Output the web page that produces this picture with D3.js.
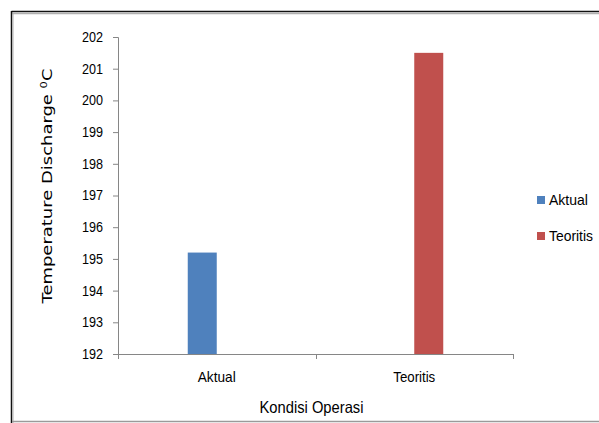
<!DOCTYPE html>
<html>
<head>
<meta charset="utf-8">
<script src="https://cdn.jsdelivr.net/npm/d3@7"></script>
<style>
  html, body { margin: 0; padding: 0; background: #fff; }
  svg { display: block; }
</style>
</head>
<body>
<script>
// Discharge temperature: measured vs. theoretical
const categories = ["Aktual", "Teoritis"];
const seriesNames = ["Aktual", "Teoritis"];
const aktualValues = [195.2, null];
const teoritisValues = [null, 201.5];
const yTicks = [192, 193, 194, 195, 196, 197, 198, 199, 200, 201, 202];
const colors = ["#4F81BD", "#C0504D"];

const W = 599, H = 423;
const svg = d3.select("body").append("svg").attr("width", W).attr("height", H);

// chart area frame
svg.append("line").attr("x1", 11.5).attr("y1", 11.5).attr("x2", W).attr("y2", 11.5)
  .attr("stroke", "#111").attr("stroke-width", 1.5);
svg.append("line").attr("x1", 12).attr("y1", 13.5).attr("x2", W).attr("y2", 13.5)
  .attr("stroke", "#b0b0b0").attr("stroke-width", 1.5);
svg.append("line").attr("x1", 11.5).attr("y1", 11).attr("x2", 11.5).attr("y2", H)
  .attr("stroke", "#111").attr("stroke-width", 1.5);
svg.append("line").attr("x1", 13).attr("y1", 13).attr("x2", 13).attr("y2", H)
  .attr("stroke", "#b0b0b0").attr("stroke-width", 1);
svg.append("line").attr("x1", 12).attr("y1", 421.5).attr("x2", W).attr("y2", 421.5)
  .attr("stroke", "#9a9a9a").attr("stroke-width", 1.5);

const x0 = d3.scaleBand().domain(categories).range([118, 513]).padding(0);
const barW = 29;
const x1 = d3.scaleBand().domain(seriesNames).range([-barW, barW]).padding(0);
const y = d3.scaleLinear().domain([192, 202]).range([354, 37]);

const axisColor = "#868686";
const font = "'Liberation Sans', Arial, sans-serif";

// y axis
const yAxis = svg.append("g").attr("transform", "translate(118,0)")
  .call(d3.axisLeft(y).tickValues(yTicks).tickSize(5).tickPadding(10).tickFormat(d3.format("d")));
yAxis.select(".domain").attr("stroke", axisColor);
yAxis.selectAll(".tick line").attr("stroke", axisColor);
yAxis.selectAll(".tick text").attr("fill", "#000")
  .style("font-family", font).style("font-size", "14px")
  .attr("textLength", 21).attr("lengthAdjust", "spacingAndGlyphs");

// bars
const series = [aktualValues, teoritisValues];
series.forEach((vals, si) => {
  svg.append("g").selectAll("rect")
    .data(categories.map((c, i) => ({ c, v: vals[i] })).filter(d => d.v != null))
    .join("rect")
    .attr("x", d => x0(d.c) + x0.bandwidth() / 2 + x1(seriesNames[si]))
    .attr("y", d => y(d.v))
    .attr("width", x1.bandwidth())
    .attr("height", d => y(192) - y(d.v))
    .attr("fill", colors[si]);
});

// x axis
const xAxis = svg.append("g").attr("transform", "translate(0,354)")
  .call(d3.axisBottom(x0).tickSize(0).tickPadding(17));
xAxis.select(".domain").attr("stroke", axisColor).attr("d", "M118.5,0.5H513");
xAxis.selectAll(".tick text").attr("fill", "#000")
  .style("font-family", font).style("font-size", "15px")
  .attr("textLength", d => d === "Aktual" ? 38 : 42).attr("lengthAdjust", "spacingAndGlyphs");
// category boundary ticks
const bounds = [x0.range()[0], ...categories.map(c => x0(c) + x0.bandwidth())];
xAxis.selectAll(".bound").data(bounds).join("line")
  .attr("x1", d => Math.round(d) + 0.5).attr("x2", d => Math.round(d) + 0.5)
  .attr("y1", 0).attr("y2", 5).attr("stroke", axisColor);

// axis titles
svg.append("text").attr("x", 311.5).attr("y", 413).attr("text-anchor", "middle")
  .style("font-family", font).style("font-size", "16.5px")
  .attr("textLength", 104).attr("lengthAdjust", "spacingAndGlyphs")
  .text("Kondisi Operasi");

const yt = svg.append("text")
  .attr("transform", "translate(52,186) rotate(-90)")
  .attr("text-anchor", "middle")
  .style("font-family", "'DejaVu Sans', sans-serif").style("font-size", "14px")
  .attr("textLength", 235).attr("lengthAdjust", "spacingAndGlyphs");
yt.append("tspan").text("Temperature Discharge ");
yt.append("tspan").attr("dy", -5).style("font-size", "9px").text("0");
yt.append("tspan").attr("dy", 5).text("C");

// legend
const legend = svg.append("g");
seriesNames.forEach((name, i) => {
  const ly = 196 + i * 36;
  legend.append("rect").attr("x", 537).attr("y", ly).attr("width", 8).attr("height", 8)
    .attr("fill", colors[i]);
  legend.append("text").attr("x", 549).attr("y", ly + 9)
    .style("font-family", font).style("font-size", "15px")
    .attr("textLength", i === 0 ? 39 : 44).attr("lengthAdjust", "spacingAndGlyphs")
    .text(name);
});
</script>
</body>
</html>
